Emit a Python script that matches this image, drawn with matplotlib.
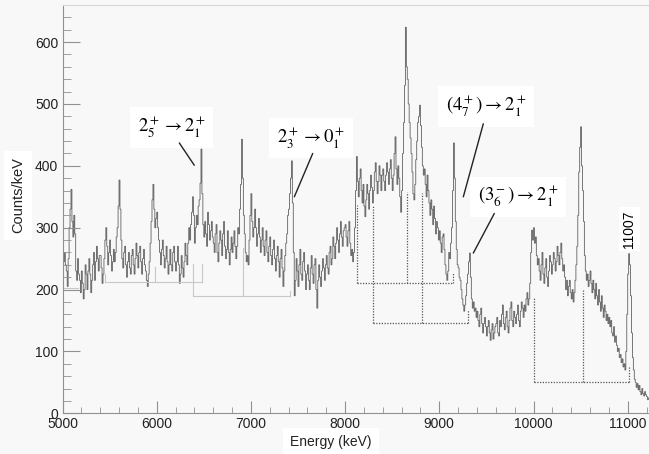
import matplotlib
matplotlib.use('Agg')
import matplotlib.pyplot as plt
import numpy as np

plt.rcParams['font.family'] = ['Liberation Sans', 'DejaVu Sans']
plt.rcParams['mathtext.fontset'] = 'stix'

# spectrum, 10 keV bins starting at 5000 keV (counts/keV),
# one list per 200 keV
bin_width = 10
e_start = 5000
r5000 = [215, 245, 260, 240, 230, 205, 250, 300, 330, 362, 310, 285, 320, 290, 230, 215, 250, 225, 215, 195]
r5200 = [230, 210, 185, 200, 240, 225, 200, 230, 250, 225, 195, 215, 240, 260, 215, 245, 270, 250, 230, 255]
r5400 = [255, 235, 210, 225, 250, 280, 300, 270, 240, 260, 280, 255, 230, 245, 265, 245, 260, 285, 300, 335]
r5600 = [377, 330, 280, 250, 235, 260, 270, 240, 220, 245, 260, 235, 225, 255, 265, 240, 225, 250, 275, 255]
r5800 = [235, 260, 270, 245, 225, 250, 265, 240, 230, 215, 205, 225, 245, 275, 310, 345, 370, 330, 300, 315]
r6000 = [325, 300, 280, 260, 240, 265, 280, 255, 235, 250, 270, 245, 225, 240, 265, 240, 230, 260, 270, 245]
r6200 = [230, 245, 270, 240, 210, 225, 255, 235, 220, 245, 275, 255, 240, 275, 300, 280, 305, 325, 350, 320]
r6400 = [275, 300, 320, 305, 335, 345, 372, 427, 355, 305, 285, 310, 290, 270, 325, 305, 280, 295, 310, 285]
r6600 = [275, 260, 290, 305, 260, 245, 275, 295, 280, 255, 290, 310, 270, 250, 265, 295, 260, 240, 265, 285]
r6800 = [260, 275, 295, 270, 250, 270, 300, 290, 330, 370, 443, 380, 320, 290, 260, 245, 255, 240, 280, 320]
r7000 = [355, 310, 285, 300, 330, 300, 270, 290, 315, 285, 260, 280, 300, 270, 255, 280, 295, 260, 245, 270]
r7200 = [285, 255, 240, 265, 280, 250, 230, 255, 270, 245, 220, 250, 265, 235, 205, 230, 255, 275, 290, 320]
r7400 = [330, 355, 380, 408, 340, 260, 190, 215, 250, 230, 205, 240, 265, 225, 215, 245, 260, 230, 200, 225]
r7600 = [240, 215, 200, 235, 255, 225, 210, 240, 250, 200, 170, 215, 240, 220, 205, 230, 250, 235, 215, 240]
r7800 = [255, 235, 225, 260, 270, 240, 250, 285, 270, 250, 275, 300, 280, 260, 290, 310, 285, 270, 295, 300]
r8000 = [305, 285, 270, 295, 310, 275, 255, 265, 245, 260, 300, 360, 415, 375, 350, 380, 395, 360, 340, 370]
r8200 = [335, 318, 345, 370, 355, 330, 360, 385, 365, 340, 360, 390, 405, 375, 355, 375, 400, 385, 360, 385]
r8400 = [395, 375, 360, 385, 405, 390, 370, 395, 410, 380, 360, 385, 420, 447, 395, 370, 400, 380, 350, 325]
r8600 = [360, 420, 470, 530, 624, 560, 540, 500, 470, 445, 420, 390, 355, 345, 370, 410, 440, 470, 480, 498]
r8800 = [465, 430, 400, 385, 395, 370, 350, 385, 360, 340, 320, 345, 330, 305, 335, 315, 290, 310, 300, 280]
r9000 = [295, 275, 260, 285, 290, 265, 240, 225, 215, 230, 260, 250, 275, 300, 360, 437, 380, 310, 265, 240]
r9200 = [235, 220, 215, 200, 185, 175, 165, 175, 190, 210, 225, 245, 259, 220, 185, 170, 180, 165, 170, 155]
r9400 = [165, 150, 140, 160, 170, 145, 130, 145, 155, 140, 125, 140, 150, 130, 118, 135, 145, 120, 130, 140]
r9600 = [145, 155, 130, 125, 150, 140, 160, 175, 145, 135, 155, 165, 140, 130, 150, 170, 180, 150, 140, 165]
r9800 = [155, 145, 160, 175, 150, 140, 165, 180, 170, 155, 175, 165, 185, 195, 175, 185, 210, 260, 296, 280]
r10000 = [300, 275, 285, 255, 240, 250, 230, 215, 240, 260, 225, 210, 235, 250, 220, 205, 230, 255, 245, 225]
r10200 = [240, 260, 250, 230, 245, 270, 255, 240, 260, 275, 250, 230, 240, 220, 200, 215, 190, 205, 215, 195]
r10400 = [185, 200, 180, 195, 215, 240, 270, 320, 390, 430, 463, 400, 360, 310, 255, 230, 215, 225, 205, 215]
r10600 = [230, 210, 195, 215, 200, 185, 210, 190, 175, 200, 180, 165, 190, 170, 155, 175, 165, 150, 160, 145]
r10800 = [155, 140, 150, 130, 125, 140, 115, 125, 110, 100, 105, 90, 95, 82, 88, 75, 80, 70, 100, 160]
r11000 = [225, 258, 240, 190, 130, 90, 70, 55, 50, 42, 48, 38, 45, 35, 30, 40, 32, 28, 35, 30]
r11200 = [27, 22, 25]

counts = np.array(r5000 + r5200 + r5400 + r5600 + r5800 + r6000 + r6200 + r6400
                  + r6600 + r6800 + r7000 + r7200 + r7400 + r7600 + r7800 + r8000
                  + r8200 + r8400 + r8600 + r8800 + r9000 + r9200 + r9400 + r9600
                  + r9800 + r10000 + r10200 + r10400 + r10600 + r10800 + r11000 + r11200,
                  dtype=float)
edges = e_start + bin_width * np.arange(len(counts) + 1)

# coincidence brackets: (level, [x positions], [tops])
gray_groups = [
    (202, [5000, 5165], [202, 202]),
    (212, [5451, 5982, 6478], [225, 237, 242]),
    (189, [6382, 6916, 7415], [242, 268, 198]),
]
dot_groups = [
    (210, [8126, 8654, 9142], [336, 357, 226]),
    (146, [8293, 8813, 9308], [336, 356, 167]),
    (51, [10000, 10529, 11014], [186, 201, 76]),
]

# labels: text, text pos (E, counts), arrow start, arrow end
labels = [
    (r'$2^+_5 \rightarrow 2^+_1$', (6162, 462), (6240, 437), (6399, 401)),
    (r'$2^+_3 \rightarrow 0^+_1$', (7638, 445), (7656, 420), (7461, 350)),
    (r'$(4^+_7) \rightarrow 2^+_1$', (9496, 496), (9467, 468), (9255, 350)),
    (r'$(3^-_6) \rightarrow 2^+_1$', (9835, 350), (9584, 323), (9361, 259)),
]

bg = '#f8f8f8'
fig = plt.figure(figsize=(6.49, 4.54), dpi=100, facecolor=bg)
ax = fig.add_axes([62.5 / 649, 40.7 / 454, (649 - 62.5) / 649, 408.3 / 454])
ax.set_facecolor(bg)

for level, xs, tops in gray_groups:
    ax.plot([xs[0], xs[-1]], [level, level], color='#c8c8c8', lw=0.8)
    for x, t in zip(xs, tops):
        ax.plot([x, x], [level, t], color='#c8c8c8', lw=0.8)
for level, xs, tops in dot_groups:
    ax.plot([xs[0], xs[-1]], [level, level], color='#555555', lw=0.9, ls=(0, (1, 1.2)))
    for x, t in zip(xs, tops):
        ax.plot([x, x], [level, t], color='#555555', lw=0.9, ls=(0, (1, 1.2)))

ax.stairs(counts, edges, baseline=None, color='#606060', lw=0.6)

ax.set_xlim(5000, 11226)
ax.set_ylim(0, 660)
ax.xaxis.set_major_locator(matplotlib.ticker.MultipleLocator(1000))
ax.xaxis.set_minor_locator(matplotlib.ticker.MultipleLocator(200))
ax.yaxis.set_major_locator(matplotlib.ticker.MultipleLocator(100))
ax.yaxis.set_minor_locator(matplotlib.ticker.MultipleLocator(20))
ax.tick_params(axis='both', which='both', direction='in', color='#909090',
               labelcolor='#222222', labelsize=10)
ax.tick_params(axis='x', which='major', length=8.5, pad=3)
ax.tick_params(axis='x', which='minor', length=4.3)
ax.tick_params(axis='y', which='major', length=12, pad=3)
ax.tick_params(axis='y', which='minor', length=5.8)
ax.spines['right'].set_visible(False)
for s in ['left', 'bottom']:
    ax.spines[s].set_color('#909090')
ax.spines['top'].set_color('#d8d8d8')

fig.text(331 / 649, 1 - 442 / 454, 'Energy (keV)', ha='center', va='center', fontsize=10,
         color='#222222', bbox=dict(boxstyle='square,pad=0.5', fc='white', ec='none'))
fig.text(18 / 649, 1 - 195 / 454, 'Counts/keV', ha='center', va='center', rotation=90,
         fontsize=10.5, color='#222222',
         bbox=dict(boxstyle='square,pad=0.45', fc='white', ec='none'))

for txt, pos, a0, a1 in labels:
    ax.text(pos[0], pos[1], txt, ha='center', va='center', fontsize=13.5, color='black',
            bbox=dict(boxstyle='square,pad=0.4', fc='white', ec='none'))
    ax.annotate('', xy=a1, xytext=a0,
                arrowprops=dict(arrowstyle='-', color='#222222', lw=1.0, shrinkA=0, shrinkB=0))

ax.text(11014, 298, '11007', rotation=90, ha='center', va='center', fontsize=10,
        color='black', bbox=dict(boxstyle='square,pad=0.25', fc='white', ec='none'))

fig.savefig('out.png', dpi=100, facecolor=bg)
